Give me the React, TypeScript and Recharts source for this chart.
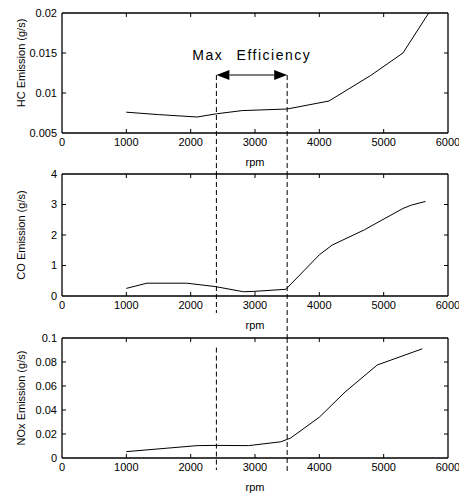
import { LineChart, Line, XAxis, YAxis, ReferenceLine } from "recharts";

const rpmTicks = [0, 1000, 2000, 3000, 4000, 5000, 6000];

const hcRpm = [1000, 1500, 2100, 2400, 2800, 3500, 4150, 4800, 5300, 5700];
const hcValues = [0.0076, 0.0073, 0.007, 0.0074, 0.0078, 0.008, 0.009, 0.0122, 0.015, 0.02];
const hcTicks = [0.005, 0.01, 0.015, 0.02];

const coRpm = [1000, 1320, 1940, 2380, 2820, 2970, 3480, 4000, 4200, 4700, 5300, 5430, 5650];
const coValues = [0.25, 0.42, 0.42, 0.31, 0.14, 0.15, 0.22, 1.35, 1.67, 2.17, 2.87, 2.98, 3.1];
const coTicks = [0, 1, 2, 3, 4];

const noxRpm = [1000, 2100, 2400, 2900, 3400, 3550, 4000, 4400, 4900, 5600];
const noxValues = [0.0053, 0.0103, 0.0105, 0.0103, 0.0135, 0.0165, 0.034, 0.055, 0.0775, 0.091];
const noxTicks = [0, 0.02, 0.04, 0.06, 0.08, 0.1];

// efficiency window (rpm)
const effStart = 2400;
const effEnd = 3500;

const FONT = "'Liberation Sans', Arial, sans-serif";
const tickStyle = { fontSize: 11, fill: "#000", fontFamily: FONT };
const W = 459;
const TICK = 4;

const toRows = (xs: number[], ys: number[]) => xs.map((rpm, i) => ({ rpm, v: ys[i] }));

function Arrow(props: any) {
  const { x1, x2, y1 } = props;
  const h = 5;
  const len = 13;
  return (
    <g>
      <line x1={x1 + len} y1={y1} x2={x2 - len} y2={y1} stroke="#000" strokeWidth={1.2} />
      <polygon points={`${x1},${y1} ${x1 + len},${y1 - h} ${x1 + len},${y1 + h}`} fill="#000" />
      <polygon points={`${x2},${y1} ${x2 - len},${y1 - h} ${x2 - len},${y1 + h}`} fill="#000" />
    </g>
  );
}

// dashed marker line that runs on past the plot bottom into the gap below
const dashShape = (ext: number) => (props: any) => {
  const { x1, y1, x2, y2 } = props;
  const lo = Math.max(y1, y2);
  const hi = Math.min(y1, y2);
  return <line x1={x1} x2={x2} y1={hi} y2={lo + ext} stroke="#000" strokeWidth={1} strokeDasharray="5 3" />;
};

// inward tick marks on both ends of a full-span reference line
function VTicks(props: any) {
  const { x1, y1, y2 } = props;
  const top = Math.min(y1, y2);
  const bot = Math.max(y1, y2);
  return (
    <g stroke="#000" strokeWidth={1}>
      <line x1={x1} x2={x1} y1={top} y2={top + TICK} />
      <line x1={x1} x2={x1} y1={bot} y2={bot - TICK} />
    </g>
  );
}

function HTicks(props: any) {
  const { x1, x2, y1 } = props;
  const l = Math.min(x1, x2);
  const r = Math.max(x1, x2);
  return (
    <g stroke="#000" strokeWidth={1}>
      <line x1={l} x2={l + TICK} y1={y1} y2={y1} />
      <line x1={r} x2={r - TICK} y1={y1} y2={y1} />
    </g>
  );
}

interface PanelProps {
  top: number;
  height: number;
  rows: { rpm: number; v: number }[];
  yDomain: [number, number];
  yTicks: number[];
  yLabel: string;
  labelDy?: number;
  dash1From: number;
  dash2From: number;
  ext1: number;
  ext2: number;
  children?: any;
}

function Panel({ top, height, rows, yDomain, yTicks, yLabel, labelDy = 0, dash1From, dash2From, ext1, ext2, children }: PanelProps) {
  const axisLine = { stroke: "#000", strokeWidth: 1.3 };
  return (
    <div style={{ position: "absolute", left: 0, top, width: W, height }}>
      <LineChart width={W} height={height} data={rows} margin={{ top: 13, right: 11, left: 12, bottom: 0 }}>
        <XAxis
          dataKey="rpm"
          type="number"
          domain={[0, 6000]}
          ticks={rpmTicks}
          allowDataOverflow
          height={35}
          tickLine={false}
          tickSize={0}
          tickMargin={5}
          tick={tickStyle}
          axisLine={axisLine}
          label={{ value: "rpm", position: "insideBottom", offset: 2, style: { fontSize: 11, fill: "#000", fontFamily: FONT } }}
        />
        <YAxis
          type="number"
          domain={yDomain}
          ticks={yTicks}
          allowDataOverflow
          width={50}
          tickLine={false}
          tickSize={0}
          tickMargin={5}
          tick={tickStyle}
          axisLine={axisLine}
          label={{
            value: yLabel,
            angle: -90,
            position: "insideLeft",
            offset: 9,
            dy: labelDy,
            style: { textAnchor: "middle", fontSize: 11, fill: "#000", fontFamily: FONT },
          }}
        />
        {/* box frame: top and right edges */}
        <ReferenceLine y={yDomain[1]} stroke="#000" strokeWidth={1.3} />
        <ReferenceLine x={6000} stroke="#000" strokeWidth={1.3} />
        {rpmTicks.slice(1, -1).map((t) => (
          <ReferenceLine key={`xt${t}`} x={t} shape={VTicks} />
        ))}
        {yTicks.slice(1, -1).map((t) => (
          <ReferenceLine key={`yt${t}`} y={t} shape={HTicks} />
        ))}
        <ReferenceLine
          segment={[{ x: effStart, y: dash1From }, { x: effStart, y: yDomain[0] }]}
          ifOverflow="visible"
          shape={dashShape(ext1)}
        />
        <ReferenceLine
          segment={[{ x: effEnd, y: dash2From }, { x: effEnd, y: yDomain[0] }]}
          ifOverflow="visible"
          shape={dashShape(ext2)}
        />
        {children}
        <Line dataKey="v" type="linear" stroke="#000" strokeWidth={1} dot={false} isAnimationActive={false} />
      </LineChart>
    </div>
  );
}

export default function App() {
  return (
    <div style={{ position: "absolute", left: 0, top: 0, width: W, height: 493, background: "#fff" }}>
      <style>{`.recharts-surface { overflow: visible; }`}</style>
      <Panel
        top={0}
        height={168}
        rows={toRows(hcRpm, hcValues)}
        yDomain={[0.005, 0.02]}
        yTicks={hcTicks}
        yLabel="HC Emission (g/s)"
        labelDy={-10}
        dash1From={0.01225}
        dash2From={0.01225}
        ext1={41}
        ext2={41}
      >
        <ReferenceLine
          segment={[{ x: effStart, y: 0.01225 }, { x: effEnd, y: 0.01225 }]}
          ifOverflow="visible"
          shape={Arrow}
          label={{
            value: "Max Efficiency",
            position: "top",
            offset: 15,
            style: { fontSize: 14, fill: "#000", fontFamily: FONT, letterSpacing: 1.5, wordSpacing: 8 },
          }}
        />
      </Panel>
      <Panel
        top={161}
        height={170}
        rows={toRows(coRpm, coValues)}
        yDomain={[0, 4]}
        yTicks={coTicks}
        yLabel="CO Emission (g/s)"
        dash1From={4}
        dash2From={4}
        ext1={17}
        ext2={42}
      />
      <Panel
        top={325}
        height={168}
        rows={toRows(noxRpm, noxValues)}
        yDomain={[0, 0.1]}
        yTicks={noxTicks}
        yLabel="NOx Emission (g/s)"
        dash1From={0.092}
        dash2From={0.1}
        ext1={12}
        ext2={15}
      />
    </div>
  );
}
